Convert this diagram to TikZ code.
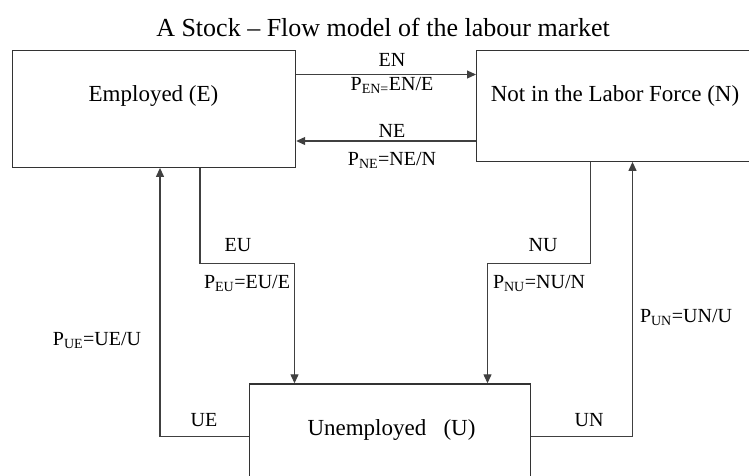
\documentclass[tikz,border=0pt]{standalone}
\usepackage{fontspec}
\setmainfont{Liberation Serif}
\usetikzlibrary{
  arrows.meta
}

\newcommand\flowrate[2]{P\textsubscript{#1}#2}

\begin{document}
\begin{tikzpicture}[
  x=1pt, y=-1pt,
  stock/.style={rectangle, draw=black!80, line width=1.2pt, anchor=north west, inner sep=0pt},
  stocktext/.style={anchor=base, inner sep=0pt, font=\fontsize{23}{27}\selectfont},
  flowtext/.style={anchor=base, inner sep=0pt, font=\fontsize{20}{24}\selectfont},
  flow/.style={draw=black!75, line width=1.2pt, -{Triangle[length=9pt,width=8pt]}}
]
\useasboundingbox (0,0) rectangle (749,475);
\clip (0,0) rectangle (749,475);

\node [anchor=base, inner sep=0pt, font=\fontsize{26}{30}\selectfont] (title) at (383,36.7) {A Stock -- Flow model of the labour market};

% the three stocks
\node [stock, minimum width=283pt, minimum height=116.7pt] (employed) at (12,50) {};
\node [stock, minimum width=280pt, minimum height=110.7pt] (notlf) at (476,50) {};
\node [stock, minimum width=281pt, minimum height=130pt] (unemployed) at (249,383.3) {};

\node [stocktext] (employed-text) at (153.5,101.7) {Employed (E)};
\node [stocktext] (notlf-text) at (615,101.7) {Not in the Labor Force (N)};
\node [stocktext] (unemployed-text) at (391.5,435.7) {Unemployed\ \ \ (U)};

% corners of the flows
\coordinate (eu-jog) at (294.5,263.3);
\coordinate (nu-jog) at (487.5,263.3);
\coordinate (ue-corner) at (160,436.7);
\coordinate (un-corner) at (632.5,436.7);

% flows
\draw [flow] ([yshift=-24.5pt]employed.north east) -- ([yshift=-24.5pt]notlf.north west);
\draw [flow] ([yshift=-91pt]notlf.north west) -- ([yshift=-91pt]employed.north east);
\draw [flow] ([xshift=188pt]employed.south west) |- (eu-jog) -- (eu-jog |- unemployed.north);
\draw [flow] ([xshift=114.7pt]notlf.south west) |- (nu-jog) -- (nu-jog |- unemployed.north);
\draw [flow] (unemployed.west |- ue-corner) -- (ue-corner) -- (ue-corner |- employed.south);
\draw [flow] (unemployed.east |- un-corner) -- (un-corner) -- (un-corner |- notlf.south);

% flow labels
\node [flowtext] (en) at (392,66.7) {EN};
\node [flowtext] (en-rate) at (392,90) {\flowrate{EN=}{EN/E}};
\node [flowtext] (ne) at (392,137.3) {NE};
\node [flowtext] (ne-rate) at (392,165) {\flowrate{NE}{=NE/N}};
\node [flowtext] (eu) at (238,251) {EU};
\node [flowtext] (eu-rate) at (247,288.3) {\flowrate{EU}{=EU/E}};
\node [flowtext] (nu) at (543,251) {NU};
\node [flowtext] (nu-rate) at (539,288.3) {\flowrate{NU}{=NU/N}};
\node [flowtext] (ue) at (204,426.7) {UE};
\node [flowtext] (ue-rate) at (97,345) {\flowrate{UE}{=UE/U}};
\node [flowtext] (un) at (589,426.7) {UN};
\node [flowtext] (un-rate) at (686,322.7) {\flowrate{UN}{=UN/U}};

\end{tikzpicture}
\end{document}
